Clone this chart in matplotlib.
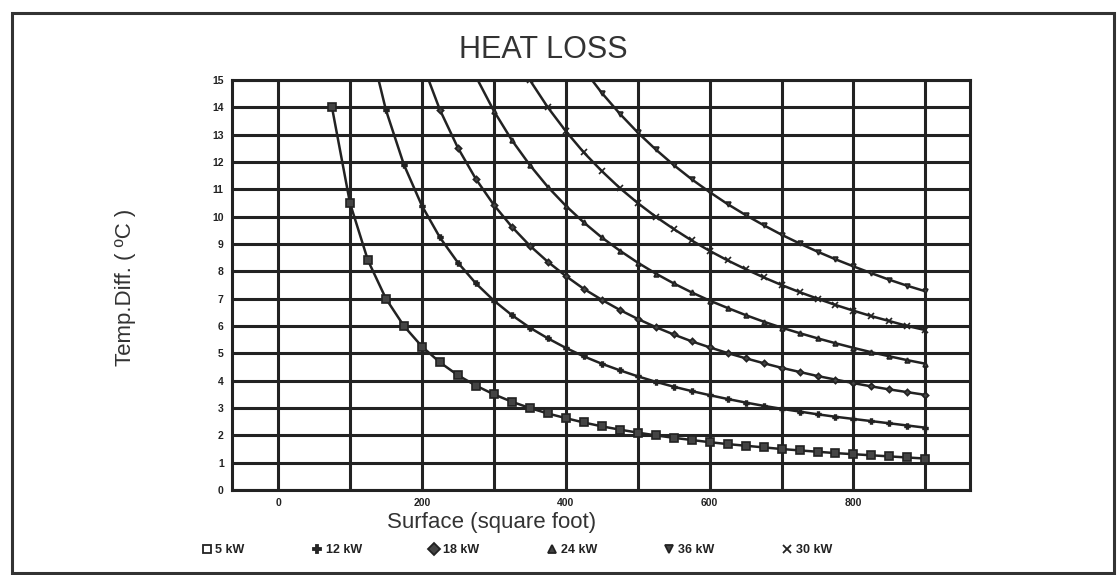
import matplotlib
matplotlib.use('Agg')
import matplotlib.pyplot as plt
from matplotlib.lines import Line2D
from matplotlib.patches import Rectangle

# =============================================================================
#                           data
# =============================================================================

y_5kw = [14.0, 10.5, 8.4, 7.0, 6.0, 5.25, 4.67, 4.2, 3.82, 3.5, 3.23, 3.0,
         2.8, 2.63, 2.47, 2.33, 2.21, 2.1, 2.0, 1.91, 1.83, 1.75, 1.68, 1.62,
         1.56, 1.5, 1.45, 1.4, 1.35, 1.31, 1.27, 1.23, 1.19, 1.15]
y_12kw = [16.6, 13.9, 11.9, 10.4, 9.24, 8.32, 7.56, 6.93, 6.4, 5.94, 5.55,
          5.2, 4.89, 4.62, 4.38, 4.16, 3.96, 3.78, 3.62, 3.47, 3.33, 3.2,
          3.08, 2.97, 2.87, 2.77, 2.68, 2.6, 2.52, 2.44, 2.36, 2.28]
y_18kw = [15.65, 13.91, 12.52, 11.38, 10.43, 9.63, 8.94, 8.35, 7.83, 7.36,
          6.96, 6.59, 6.26, 5.96, 5.69, 5.44, 5.22, 5.01, 4.82, 4.64, 4.47,
          4.32, 4.17, 4.04, 3.91, 3.79, 3.68, 3.58, 3.48]
y_24kw = [15.13, 13.87, 12.8, 11.89, 11.09, 10.4, 9.79, 9.24, 8.76, 8.32,
          7.92, 7.56, 7.23, 6.93, 6.66, 6.4, 6.16, 5.94, 5.74, 5.55, 5.37,
          5.2, 5.04, 4.89, 4.75, 4.62]
y_30kw = [15.0, 14.0, 13.13, 12.35, 11.67, 11.05, 10.5, 10.0, 9.55, 9.13,
          8.75, 8.4, 8.08, 7.78, 7.5, 7.24, 7.0, 6.77, 6.56, 6.36, 6.18, 6.0,
          5.85]
y_36kw = [15.39, 14.53, 13.77, 13.08, 12.46, 11.89, 11.37, 10.9, 10.46,
          10.06, 9.69, 9.34, 9.02, 8.72, 8.44, 8.18, 7.93, 7.69, 7.47, 7.27]

# surfaces sampled every 25 sq ft, first sample per curve
x_start = {'5 kW': 75, '12 kW': 125, '18 kW': 200, '24 kW': 275,
           '30 kW': 350, '36 kW': 425}

x_ticks = [0, 200, 400, 600, 800]
y_ticks = list(range(0, 16))

# =============================================================================
#                               Plotting
# =============================================================================

plt.rcParams['font.family'] = ['Liberation Sans', 'DejaVu Sans']
ink = '#222222'

fig = plt.figure(figsize=(11.17, 5.75), dpi=100)
ax = fig.add_axes([0.2077, 0.1478, 0.6607, 0.7131])

series = [('5 kW', y_5kw, 's', 6.0, ink),
          ('12 kW', y_12kw, 'P', 3.5, ink),
          ('18 kW', y_18kw, 'D', 3.2, ink),
          ('24 kW', y_24kw, '^', 3.5, ink),
          ('30 kW', y_30kw, 'x', 4.0, ink),
          ('36 kW', y_36kw, 'v', 3.5, ink)]

for name, yy, mk, ms, col in series:
    xx = list(range(x_start[name], x_start[name] + 25 * len(yy), 25))
    ax.plot(xx, yy, color=col, lw=1.8, marker=mk, ms=ms, mew=1.2,
            mfc='#444444', mec=col, zorder=3)

ax.set_xlim(-64, 962)
ax.set_ylim(0, 15)
ax.set_xticks(x_ticks)
ax.set_xticks(list(range(0, 1000, 100)), minor=True)
ax.set_yticks(y_ticks)
ax.grid(True, which='both', color=ink, lw=2.2)
ax.set_axisbelow(True)
ax.tick_params(which='both', length=0, labelsize=7.5, colors=ink, pad=6)
for lab in ax.get_xticklabels() + ax.get_yticklabels():
    lab.set_fontweight('bold')
for sp in ax.spines.values():
    sp.set_linewidth(2.2)
    sp.set_color(ink)

fig.text(0.486, 0.913, 'HEAT LOSS', fontsize=22, color='#333333',
         ha='center', va='center')
fig.text(0.112, 0.5, 'Temp.Diff. ( ºC )', fontsize=16, color='#333333',
         rotation=90, ha='center', va='center')
fig.text(0.440, 0.092, 'Surface (square foot)', fontsize=16,
         color='#333333', ha='center', va='center')

# legend along the bottom, in the chart's own order
leg_order = ['5 kW', '12 kW', '18 kW', '24 kW', '36 kW', '30 kW']
style = {s[0]: s for s in series}
handles = [Line2D([], [], ls='none', marker=style[n][2], ms=6,
                  mfc='#444444' if n != '5 kW' else 'white',
                  mec=ink, mew=1.3, color=ink) for n in leg_order]
leg = fig.legend(handles, leg_order, loc='center', ncol=6,
                 bbox_to_anchor=(0.462, 0.043), frameon=False,
                 handletextpad=0.2, columnspacing=5.3, handlelength=1.0,
                 prop={'size': 9, 'weight': 'bold'})
for t in leg.get_texts():
    t.set_color(ink)

fig.patches.append(Rectangle((0.011, 0.004), 0.986, 0.973,
                             transform=fig.transFigure, fill=False,
                             lw=2.2, ec='#333333'))

fig.savefig('out.png', dpi=100)
